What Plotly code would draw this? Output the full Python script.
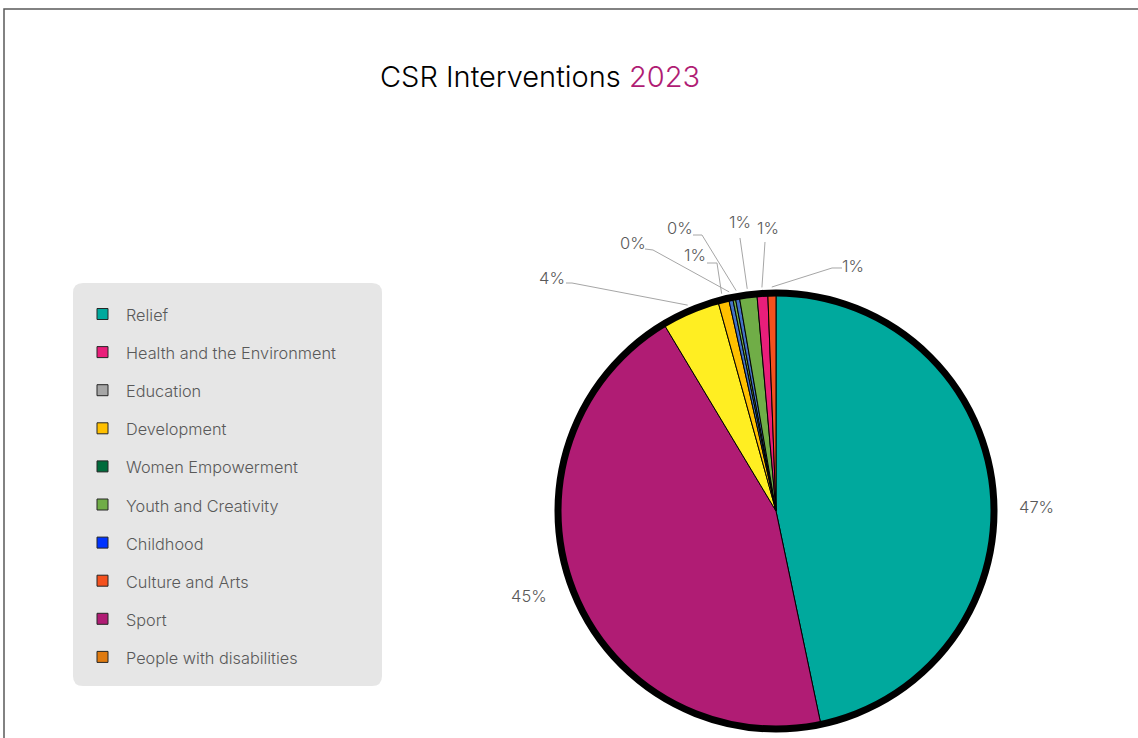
import math
import plotly.graph_objects as go

# ---- data -------------------------------------------------------------
# Slices, in drawing order (clockwise from 12 o'clock)
slice_labels = [
    "Relief", "Sport", "Development", "People with disabilities",
    "Childhood", "Women Empowerment", "Education",
    "Youth and Creativity", "Health and the Environment", "Culture and Arts",
]
slice_values = [46.7, 44.7, 4.3, 0.8, 0.3, 0.2, 0.3, 1.3, 0.8, 0.6]
slice_colors = [
    "#00A99D", "#B01C74", "#FFEE22", "#FFC000",
    "#4472C4", "#70AD47", "#4472C4",
    "#70AD47", "#E91E7A", "#F4511E",
]

# Legend entries, in listed order
legend_labels = [
    "Relief", "Health and the Environment", "Education", "Development",
    "Women Empowerment", "Youth and Creativity", "Childhood",
    "Culture and Arts", "Sport", "People with disabilities",
]
legend_colors = [
    "#00A99D", "#E91E7A", "#A6A6A6", "#FFC000", "#006B3C",
    "#70AD47", "#0033FF", "#F4511E", "#B01C74", "#E07B10",
]

title_main = "CSR Interventions"
title_year = "2023"

# ---- layout constants (pixels) -----------------------------------------
W, H = 1138, 738
CX, CY, R = 776, 511, 218          # pie centre and radius
RING = 7                           # thick outer rim

# Label placement: (text x, text y, leader start, leader elbow or None)
label_place = {
    "Relief": (1036, 507, None, None),
    "Sport": (529, 596, None, None),
    "Development": (552, 278, (566, 283), (572, 283)),
    "People with disabilities": (695, 255, (707, 263), (717, 263)),
    "Childhood": (633, 243, (645, 249), (653, 250)),
    "Education": (680, 228, (693, 235), (702, 235)),
    "Youth and Creativity": (740, 222, (740, 238), None),
    "Health and the Environment": (768, 228, (765, 242), None),
    "Culture and Arts": (853, 266, (842, 268), (832, 268)),
}


def px(x):
    return x / W


def py(y):
    return 1 - y / H


fig = go.Figure()

fig.add_trace(go.Pie(
    labels=slice_labels,
    values=slice_values,
    marker=dict(colors=slice_colors, line=dict(color="#000000", width=1)),
    sort=False,
    direction="clockwise",
    rotation=0,
    textinfo="none",
    showlegend=False,
    hoverinfo="label+percent",
    domain=dict(x=[px(CX - R), px(CX + R)], y=[py(CY + R), py(CY - R)]),
))

shapes = []
annotations = []

# outer frame
shapes.append(dict(type="rect", xref="paper", yref="paper",
                   x0=px(4), x1=px(W + 5), y0=py(H + 5), y1=py(9),
                   line=dict(color="#595959", width=1.5), layer="below"))

# thick rim around the pie
shapes.append(dict(type="circle", xref="paper", yref="paper",
                   x0=px(CX - R), x1=px(CX + R), y0=py(CY + R), y1=py(CY - R),
                   line=dict(color="#000000", width=RING)))

# percentage labels with leader lines
total = sum(slice_values)
cum = 0.0
for lab, val in zip(slice_labels, slice_values):
    mid = (cum + val / 2) / total * 2 * math.pi
    cum += val
    if lab not in label_place:
        continue
    tx, ty, start, elbow = label_place[lab]
    annotations.append(dict(
        x=px(tx), y=py(ty), xref="paper", yref="paper",
        text=f"{round(val / total * 100):.0f}%", showarrow=False,
        font=dict(family="Inter", size=16.5, color="#595959", weight=300),
        xanchor="center", yanchor="middle",
    ))
    if start is not None:
        ex = CX + (R + 6) * math.sin(mid)
        ey = CY - (R + 6) * math.cos(mid)
        pts = [start] + ([elbow] if elbow else []) + [(ex, ey)]
        path = "M " + " L ".join(f"{px(a):.5f},{py(b):.5f}" for a, b in pts)
        shapes.append(dict(type="path", xref="paper", yref="paper", path=path,
                           line=dict(color="#A6A6A6", width=1)))

# legend panel
lx0, ly0, lx1, ly1, rad = 73, 283, 382, 686, 10
panel = (f"M {px(lx0 + rad)},{py(ly0)} L {px(lx1 - rad)},{py(ly0)} "
         f"Q {px(lx1)},{py(ly0)} {px(lx1)},{py(ly0 + rad)} "
         f"L {px(lx1)},{py(ly1 - rad)} Q {px(lx1)},{py(ly1)} {px(lx1 - rad)},{py(ly1)} "
         f"L {px(lx0 + rad)},{py(ly1)} Q {px(lx0)},{py(ly1)} {px(lx0)},{py(ly1 - rad)} "
         f"L {px(lx0)},{py(ly0 + rad)} Q {px(lx0)},{py(ly0)} {px(lx0 + rad)},{py(ly0)} Z")
shapes.append(dict(type="path", xref="paper", yref="paper", path=panel,
                   fillcolor="#E6E6E6", line=dict(width=0), layer="below"))

row0, step = 314, 38.1
for i, (lab, col) in enumerate(zip(legend_labels, legend_colors)):
    yc = row0 + i * step
    shapes.append(dict(type="rect", xref="paper", yref="paper",
                       x0=px(97), x1=px(108), y0=py(yc + 5.5), y1=py(yc - 5.5),
                       fillcolor=col, line=dict(color="#262626", width=1)))
    annotations.append(dict(
        x=px(124), y=py(yc + 1), xref="paper", yref="paper", text=lab,
        showarrow=False, xanchor="left", yanchor="middle",
        font=dict(family="Inter", size=16.3, color="#595959", weight=300),
    ))

# title
annotations.append(dict(
    x=px(540), y=py(77), xref="paper", yref="paper",
    text=f"{title_main} <span style='color:#B01C74'>{title_year}</span>",
    showarrow=False, xanchor="center", yanchor="middle",
    font=dict(family="Inter", size=29, color="#000000", weight=300),
))

fig.update_layout(
    width=W, height=H,
    margin=dict(l=0, r=0, t=0, b=0),
    paper_bgcolor="#FFFFFF", plot_bgcolor="#FFFFFF",
    shapes=shapes, annotations=annotations,
)

fig.write_html("out.html")
